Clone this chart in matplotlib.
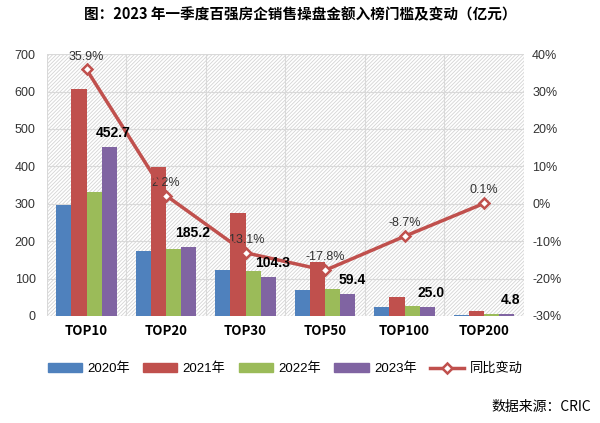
import matplotlib
matplotlib.use("Agg")
import matplotlib.pyplot as plt
import numpy as np
from matplotlib.patches import Rectangle
from matplotlib.lines import Line2D
from matplotlib.patches import Patch

plt.rcParams['font.family'] = ['Liberation Sans', 'Noto Sans CJK SC', 'DejaVu Sans']
plt.rcParams['hatch.color'] = '#d4d4d4'
plt.rcParams['hatch.linewidth'] = 0.6

categories = ["TOP10", "TOP20", "TOP30", "TOP50", "TOP100", "TOP200"]
series_names = ["2020年", "2021年", "2022年", "2023年"]
v2020 = [297, 174, 124, 70, 24, 3]
v2021 = [607, 397, 276, 143, 51, 13]
v2022 = [331, 179, 121, 72, 27, 4]
v2023 = [452.7, 185.2, 104.3, 59.4, 25.0, 4.8]
yoy = [35.9, 2.2, -13.1, -17.8, -8.7, 0.1]
line_name = "同比变动"
colors = ["#4F81BD", "#C0504D", "#9BBB59", "#8064A2"]
line_color = "#C0504D"

fig = plt.figure(figsize=(6.0, 4.23), dpi=100)
ax = fig.add_axes([0.078, 0.253, 0.795, 0.619])
ax2 = ax.twinx()

n = len(categories)
x = np.arange(n)
bw = 0.19
allvals = [v2020, v2021, v2022, v2023]

# hatched background
ax.add_patch(Rectangle((0, 0), 1, 1, transform=ax.transAxes, facecolor='white',
                       edgecolor='#d4d4d4', hatch='/////////', linewidth=0, zorder=0))

for i, vals in enumerate(allvals):
    ax.bar(x + (i - 1.5) * bw, vals, width=bw, color=colors[i], zorder=3,
           label=series_names[i])

ax.set_xlim(-0.5, n - 0.5)
ax.set_ylim(0, 700)
ax.set_yticks(np.arange(0, 701, 100))
ax.set_xticks(x)
ax.set_xticklabels(categories, fontweight='bold', fontsize=9.5, family=['Noto Sans CJK SC'])
for b in np.arange(-0.5, n, 1):
    ax.axvline(b, color='#d9d9d9', lw=0.8, zorder=1)
ax.grid(axis='y', color='#d9d9d9', lw=0.8, zorder=1)
ax.set_axisbelow(True)
for s in ax.spines.values():
    s.set_visible(False)
for s in ax2.spines.values():
    s.set_visible(False)
ax.tick_params(axis='y', length=0, labelsize=9, colors='#333333', pad=8)
ax.tick_params(axis='x', length=0, pad=6)

ax2.plot(x, yoy, color=line_color, lw=2.5, marker='D', markersize=5,
         markerfacecolor='white', markeredgecolor=line_color, markeredgewidth=1.8,
         zorder=5, label=line_name)
for xi, v in zip(x, yoy):
    ax2.annotate(f"{v:.1f}%", xy=(xi, v), xytext=(0, 5), textcoords='offset points',
                 ha='center', va='bottom', fontsize=9, color='#333333')
ax2.set_ylim(-30, 40)
ax2.set_yticks(np.arange(-30, 41, 10))
ax2.set_yticklabels([f"{t}%" for t in range(-30, 41, 10)])
ax2.tick_params(axis='y', length=0, labelsize=9, colors='#333333', pad=6)

# bar data labels drawn above the line
for xi, v in zip(x + 1.5 * bw, v2023):
    ax2.annotate(f"{v:.1f}", xy=(xi, v), xycoords=ax.transData, xytext=(3, 5),
                 textcoords='offset points', ha='center', va='bottom', fontsize=10,
                 fontweight='bold', color='black', zorder=6)

handles = [Patch(color=c) for c in colors] + [
    Line2D([0], [0], color=line_color, lw=2.5, marker='D', markersize=5,
           markerfacecolor='white', markeredgecolor=line_color, markeredgewidth=1.8)]
fig.legend(handles, series_names + [line_name], loc='center', bbox_to_anchor=(0.475, 0.128),
           ncol=5, frameon=False, fontsize=9.5, handlelength=2.6, handleheight=0.6,
           columnspacing=1.0, handletextpad=0.4)

fig.text(0.5, 0.965, "图：2023 年一季度百强房企销售操盘金额入榜门槛及变动（亿元）",
         ha='center', va='center', fontsize=10.5, fontweight='bold',
         family=['Noto Sans CJK SC'])
fig.text(0.985, 0.038, "数据来源：CRIC", ha='right', va='center', fontsize=10,
         family=['Noto Sans CJK SC'])

fig.savefig("out.png", dpi=100)
